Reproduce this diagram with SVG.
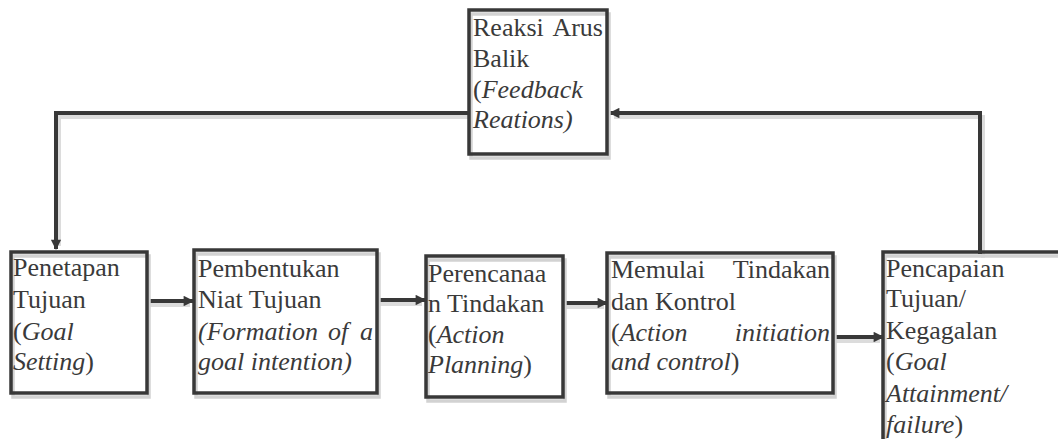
<svg xmlns="http://www.w3.org/2000/svg" width="1058" height="439" viewBox="0 0 1058 439">
<style>
.box{fill:none;stroke:#383838;stroke-width:3.5}
.sh{fill:none;stroke:#d2d2d2;stroke-width:3.5}
.ln{fill:none;stroke:#383838;stroke-width:4}
.lsh{fill:none;stroke:#dcdcdc;stroke-width:4}
.t{font-family:'Liberation Serif','Times New Roman',Tinos,'DejaVu Serif',serif;font-size:26px;fill:#3a3a3a}
.i{font-style:italic}
</style>
<defs>
<marker id="ah" viewBox="0 0 10 10" refX="9" refY="5" markerWidth="3" markerHeight="2.6" markerUnits="strokeWidth" orient="auto">
<path d="M0,0 L10,5 L0,10 z" fill="#383838"/>
</marker>
</defs>
<rect width="1058" height="439" fill="#ffffff"/>

<g id="connectors">
<path class="lsh" d="M983 258 V117 H614"/>
<path class="lsh" d="M469 117 H59 V246"/>
<path class="lsh" d="M150 305 H190"/>
<path class="lsh" d="M379 304 H422"/>
<path class="lsh" d="M566 307 H604"/>
<path class="lsh" d="M836 341 H880"/>
<path class="ln" d="M980 254 V113 H610" marker-end="url(#ah)"/>
<path class="ln" d="M469 113 H56 V249" marker-end="url(#ah)"/>
<path class="ln" d="M148 301 H193" marker-end="url(#ah)"/>
<path class="ln" d="M377 300 H425" marker-end="url(#ah)"/>
<path class="ln" d="M564 303 H607" marker-end="url(#ah)"/>
<path class="ln" d="M834 337 H883" marker-end="url(#ah)"/>
</g>

<g id="reaksi" class="t" font-family="Liberation Serif, serif">
<rect class="sh" x="471" y="14" width="138" height="144"/>
<rect class="box" x="469" y="10" width="138" height="144"/>
<text x="473" y="36">Reaksi</text>
<text x="603" y="36" text-anchor="end">Arus</text>
<text x="473" y="67">Balik</text>
<text x="473" y="98">(<tspan class="i">Feedback</tspan></text>
<text x="473" y="128" class="i">Reations)</text>
</g>

<g id="penetapan" class="t" font-family="Liberation Serif, serif">
<rect class="sh" x="13" y="256" width="136" height="141"/>
<rect class="box" x="11" y="252" width="136" height="141"/>
<text x="13" y="276">Penetapan</text>
<text x="13" y="308">Tujuan</text>
<text x="13" y="340">(<tspan class="i">Goal</tspan></text>
<text x="13" y="370"><tspan class="i">Setting</tspan>)</text>
</g>

<g id="pembentukan" class="t" font-family="Liberation Serif, serif">
<rect class="sh" x="196" y="254" width="183" height="143"/>
<rect class="box" x="194" y="250" width="183" height="143"/>
<text x="198" y="277">Pembentukan</text>
<text x="198" y="308">Niat Tujuan</text>
<text y="340" class="i"><tspan x="198">(Formation</tspan><tspan x="328">of</tspan></text>
<text x="373" y="340" class="i" text-anchor="end">a</text>
<text x="198" y="370" class="i">goal intention)</text>
</g>

<g id="perencanaan" class="t" font-family="Liberation Serif, serif">
<rect class="sh" x="428" y="260" width="137" height="141"/>
<rect class="box" x="426" y="256" width="137" height="141"/>
<text x="428" y="282">Perencanaa</text>
<text x="428" y="312">n Tindakan</text>
<text x="428" y="343">(<tspan class="i">Action</tspan></text>
<text x="428" y="373"><tspan class="i">Planning</tspan>)</text>
</g>

<g id="memulai" class="t" font-family="Liberation Serif, serif">
<rect class="sh" x="609" y="257" width="226" height="140"/>
<rect class="box" x="607" y="253" width="226" height="140"/>
<text x="611" y="278">Memulai</text>
<text x="830" y="278" text-anchor="end">Tindakan</text>
<text x="611" y="310">dan Kontrol</text>
<text x="611" y="341">(<tspan class="i">Action</tspan></text>
<text x="830" y="341" class="i" text-anchor="end">initiation</text>
<text x="611" y="370"><tspan class="i">and control</tspan>)</text>
</g>

<g id="pencapaian" class="t" font-family="Liberation Serif, serif">
<rect class="sh" x="885" y="256" width="200" height="200"/>
<rect class="box" x="883" y="252" width="200" height="200"/>
<text x="886" y="277">Pencapaian</text>
<text x="886" y="307">Tujuan/</text>
<text x="886" y="339">Kegagalan</text>
<text x="886" y="370">(<tspan class="i">Goal</tspan></text>
<text x="886" y="402" class="i">Attainment/</text>
<text x="886" y="433"><tspan class="i">failure</tspan>)</text>
</g>
</svg>
